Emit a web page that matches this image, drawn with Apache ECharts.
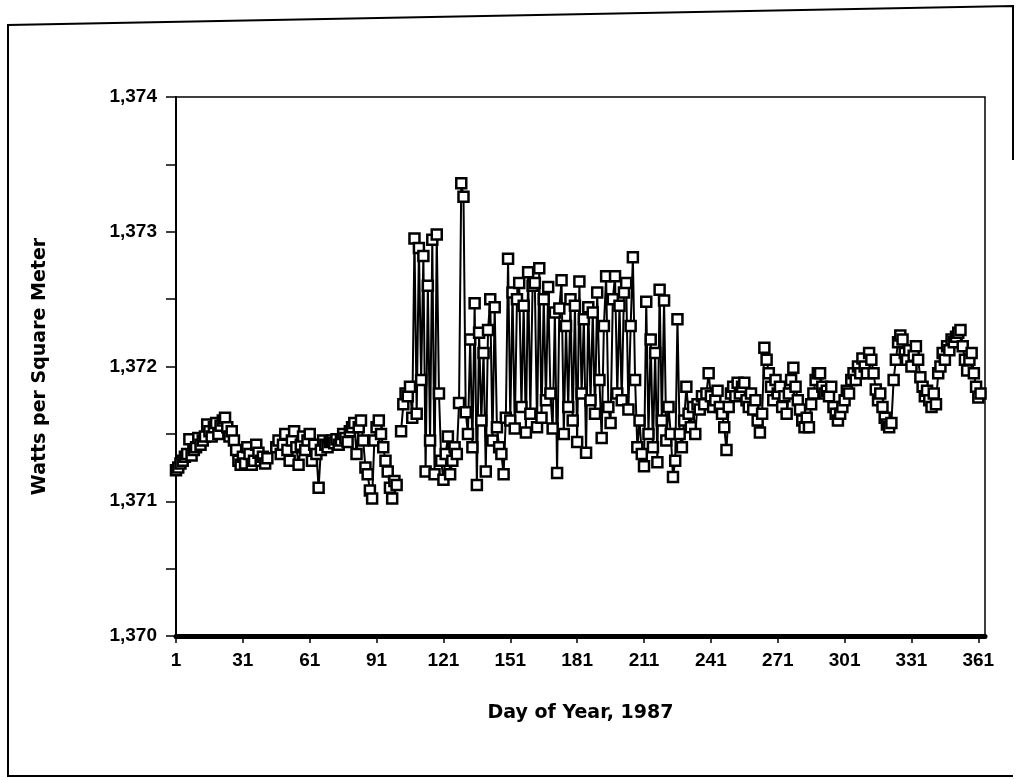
<!DOCTYPE html>
<html>
<head>
<meta charset="utf-8">
<script src="https://cdn.jsdelivr.net/npm/echarts@6/dist/echarts.min.js"></script>
<style>
html, body { margin: 0; padding: 0; background: #fff; }
#solarChart { width: 1018px; height: 779px; }
</style>
</head>
<body>
<div id="solarChart"></div>
<script>
// 1987 daily irradiance, W/m^2, index 0 = day 1
var irradiance = [
  1371.23, 1371.25, 1371.28, 1371.30, 1371.33, 1371.35, 1371.46, 1371.34, 1371.38, 1371.40,
  1371.47, 1371.42, 1371.45, 1371.48, 1371.57, 1371.52, 1371.48, 1371.55, 1371.58, 1371.50,
  1371.56, 1371.60, 1371.62, 1371.55, 1371.48, 1371.52, 1371.45, 1371.38, 1371.30, 1371.27,
  1371.33, 1371.28, 1371.40, 1371.35, 1371.27, 1371.30, 1371.42, 1371.36, 1371.30, 1371.33,
  1371.28, 1371.32, null, null, null, 1371.40, 1371.45, 1371.35, 1371.42, 1371.50,
  1371.38, 1371.30, 1371.45, 1371.52, 1371.40, 1371.27, 1371.42, 1371.48, 1371.38, 1371.45,
  1371.50, 1371.30, 1371.42, 1371.35, 1371.10, 1371.38, 1371.45, 1371.42, 1371.40, 1371.44,
  1371.45, 1371.43, 1371.46, 1371.42, 1371.45, 1371.50, 1371.47, 1371.44, 1371.52, 1371.55,
  1371.58, 1371.35, 1371.55, 1371.60, 1371.45, 1371.25, 1371.20, 1371.08, 1371.02, 1371.45,
  1371.55, 1371.60, 1371.50, 1371.40, 1371.30, 1371.22, 1371.10, 1371.02, 1371.15, 1371.12,
  null, 1371.52, 1371.72, 1371.80, 1371.78, 1371.85, 1371.62, 1372.95, 1371.65, 1372.88,
  1371.90, 1372.82, 1371.22, 1372.60, 1371.45, 1372.94, 1371.20, 1372.98, 1371.80, 1371.30,
  1371.16, 1371.35, 1371.48, 1371.20, 1371.30, 1371.40, 1371.35, 1371.73, 1373.36, 1373.26,
  1371.66, 1371.50, 1372.20, 1371.40, 1372.47, 1371.12, 1372.25, 1371.60, 1372.10, 1371.22,
  1372.27, 1372.50, 1371.45, 1372.44, 1371.55, 1371.40, 1371.35, 1371.20, 1371.62, 1372.80,
  1371.60, 1372.55, 1371.54, 1372.50, 1372.62, 1371.70, 1372.45, 1371.51, 1372.70, 1371.65,
  1372.60, 1372.62, 1371.55, 1372.73, 1371.62, 1372.50, 1371.75, 1372.59, 1371.80, 1371.54,
  1372.40, 1371.21, 1372.43, 1372.64, 1371.50, 1372.30, 1371.70, 1372.50, 1371.60, 1372.45,
  1371.44, 1372.63, 1371.80, 1372.35, 1371.36, 1372.44, 1371.75, 1372.40, 1371.65, 1372.55,
  1371.90, 1371.47, 1372.30, 1372.67, 1371.70, 1371.58, 1372.50, 1372.67, 1371.80, 1372.45,
  1371.75, 1372.55, 1372.62, 1371.68, 1372.30, 1372.81, 1371.90, 1371.40, 1371.60, 1371.35,
  1371.26, 1372.48, 1371.50, 1372.20, 1371.40, 1372.10, 1371.29, 1372.57, 1371.60, 1372.49,
  1371.45, 1371.70, 1371.50, 1371.18, 1371.30, 1372.35, 1371.50, 1371.40, 1371.60, 1371.85,
  1371.65, 1371.55, 1371.70, 1371.50, 1371.72, 1371.68, 1371.78, 1371.72, 1371.80, 1371.95,
  1371.78, 1371.70, 1371.75, 1371.82, 1371.70, 1371.65, 1371.55, 1371.38, 1371.70, 1371.80,
  1371.85, 1371.78, 1371.88, 1371.80, 1371.85, 1371.88, 1371.75, 1371.70, 1371.80, 1371.68,
  1371.75, 1371.60, 1371.51, 1371.65, 1372.14, 1372.05, 1371.95, 1371.85, 1371.75, 1371.90,
  1371.80, 1371.85, 1371.70, 1371.78, 1371.65, 1371.80, 1371.90, 1371.99, 1371.85, 1371.75,
  1371.68, 1371.60, 1371.55, 1371.62, 1371.55, 1371.72, 1371.80, 1371.90, 1371.95, 1371.95,
  1371.85, 1371.80, 1371.82, 1371.78, 1371.85, 1371.70, 1371.65, 1371.60, 1371.65, 1371.70,
  1371.75, 1371.82, 1371.80, 1371.90, 1371.95, 1371.90, 1372.00, 1371.95, 1372.06, 1372.00,
  1371.95, 1372.10, 1372.05, 1371.95, 1371.83, 1371.75, 1371.80, 1371.70, 1371.62, 1371.57,
  1371.55, 1371.58, 1371.90, 1372.05, 1372.18, 1372.23, 1372.20, 1372.10, 1372.05, 1372.12,
  1372.00, 1372.08, 1372.15, 1372.05, 1371.92, 1371.85, 1371.78, 1371.82, 1371.75, 1371.70,
  1371.80, 1371.72, 1371.95, 1372.00, 1372.10, 1372.05, 1372.15, 1372.12, 1372.20, 1372.18,
  1372.22, 1372.25, 1372.27, 1372.15, 1372.05, 1371.97, 1372.05, 1372.10, 1371.95, 1371.85,
  1371.77, 1371.80
];
var dayTicks = [1, 31, 61, 91, 121, 151, 181, 211, 241, 271, 301, 331, 361];

var seriesData = [];
for (var i = 0; i < irradiance.length; i++) {
  seriesData.push([i + 1, irradiance[i]]);
}

var labelFont = '"Liberation Sans", Arial, sans-serif';
var titleFont = '"DejaVu Sans", sans-serif';
var chart = echarts.init(document.getElementById('solarChart'));

var option = {
  animation: false,
  backgroundColor: '#fff',
  grid: {
    left: 176, top: 97, right: 33, bottom: 143,
    show: true, borderColor: '#000', borderWidth: 1.5
  },
  xAxis: {
    type: 'value',
    min: 1, max: 364,
    name: 'Day of Year, 1987',
    nameLocation: 'middle',
    nameGap: 68,
    nameTextStyle: { fontFamily: titleFont, fontWeight: 'bold', fontSize: 19, color: '#000' },
    splitLine: { show: false },
    axisLine: { lineStyle: { color: '#000', width: 5 } },
    axisTick: { show: true, length: 7, customValues: dayTicks, lineStyle: { color: '#000', width: 1.5 } },
    axisLabel: {
      customValues: dayTicks,
      margin: 15,
      fontFamily: labelFont, fontWeight: 'bold', fontSize: 19, color: '#000'
    }
  },
  yAxis: {
    type: 'value',
    min: 1370, max: 1374, interval: 1,
    name: 'Watts per Square Meter',
    nameLocation: 'middle',
    nameGap: 126,
    nameTextStyle: { fontFamily: titleFont, fontWeight: 'bold', fontSize: 19, color: '#000' },
    splitLine: { show: false },
    axisLine: { show: true, lineStyle: { color: '#000', width: 2 } },
    axisTick: { show: true, length: 10, lineStyle: { color: '#000', width: 1.5 } },
    minorTick: { show: true, splitNumber: 2, length: 10, lineStyle: { color: '#000', width: 1.5 } },
    axisLabel: {
      margin: 19,
      fontFamily: labelFont, fontWeight: 'bold', fontSize: 19, color: '#000',
      formatter: function (v) {
        return v.toLocaleString('en-US');
      }
    }
  },
  series: [{
    type: 'line',
    data: seriesData,
    connectNulls: false,
    symbol: 'rect',
    symbolSize: 10,
    showSymbol: true,
    showAllSymbol: true,
    lineStyle: { color: '#000', width: 2 },
    itemStyle: { color: '#fff', borderColor: '#000', borderWidth: 2.5 }
  }],
  graphic: [{
    type: 'polyline',
    silent: true,
    shape: { points: [[1013, 160], [1013, 6], [8, 25], [8, 776], [1013, 776]] },
    style: { stroke: '#000', lineWidth: 2, fill: null }
  }]
};

chart.setOption(option);
</script>
</body>
</html>
